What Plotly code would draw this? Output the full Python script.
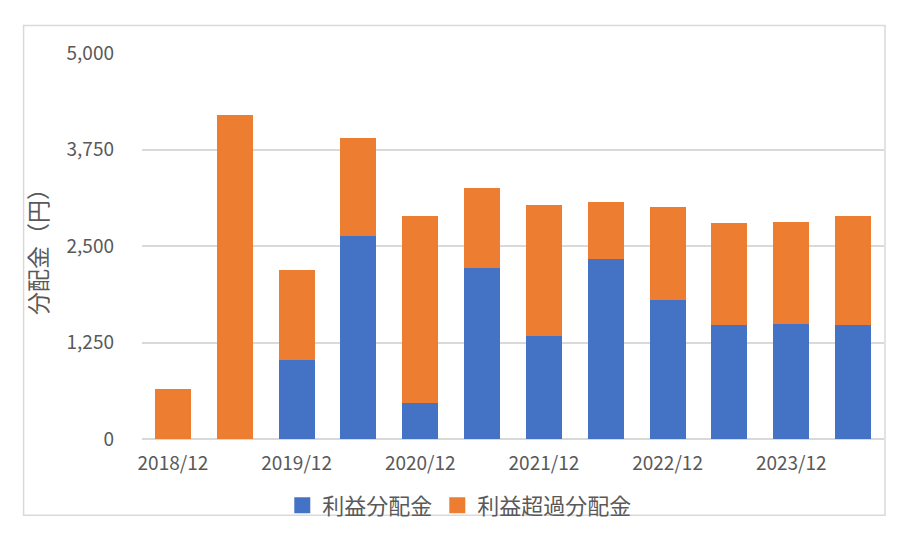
import plotly.graph_objects as go

periods = ["2018/12", "2019/6", "2019/12", "2020/6", "2020/12", "2021/6",
           "2021/12", "2022/6", "2022/12", "2023/6", "2023/12", "2024/6"]
profit_dist = [0, 0, 1027, 2633, 472, 2216, 1328, 2332, 1802, 1471, 1492, 1479]
excess_dist = [652, 4192, 1163, 1262, 2416, 1033, 1702, 736, 1202, 1326, 1318, 1409]
tick_labels = periods[::2]
y_ticks = [0, 1250, 2500, 3750, 5000]

BLUE, ORANGE = "#4472C4", "#ED7D31"
FONT = "Noto Sans CJK JP, Noto Sans, sans-serif"
GREY = "#595959"

# page body has an 8px margin; figure coordinates are page coordinates - 8
OFF = 8
W, H = 912 - 2 * OFF, 538 - 2 * OFF
plot_left, plot_right, plot_top, plot_bottom = 142, 884.5, 52.5, 439.5
L = plot_left - OFF
R = W - (plot_right - OFF)
T = plot_top - OFF
B = H - (plot_bottom - OFF)
pw, ph = W - L - R, H - T - B

def px_x(p):
    return (p - OFF - L) / pw

def px_y(p):
    return (H - B - (p - OFF)) / ph

fig = go.Figure()
fig.add_trace(go.Bar(x=periods, y=profit_dist, name="利益分配金",
                     legendgroup="a", showlegend=False,
                     marker=dict(color=BLUE, line=dict(width=0))))
fig.add_trace(go.Bar(x=periods, y=excess_dist, name="利益超過分配金",
                     legendgroup="b", showlegend=False,
                     marker=dict(color=ORANGE, line=dict(width=0))))
# legend entries with larger square keys
fig.add_trace(go.Scatter(x=[None], y=[None], mode="markers", name="利益分配金",
                         legendgroup="a",
                         marker=dict(symbol="square", size=16, color=BLUE)))
fig.add_trace(go.Scatter(x=[None], y=[None], mode="markers", name="利益超過分配金",
                         legendgroup="b",
                         marker=dict(symbol="square", size=16, color=ORANGE)))

fig.update_layout(
    width=W, height=H,
    barmode="stack", bargap=0.42,
    margin=dict(l=L, r=R, t=T, b=B, autoexpand=False, pad=0),
    paper_bgcolor="white", plot_bgcolor="white",
    font=dict(family=FONT, color=GREY, size=19),
    showlegend=True,
    legend=dict(orientation="h", x=px_x(460), xanchor="center",
                y=px_y(506), yanchor="middle", itemsizing="trace",
                font=dict(size=22, color=GREY), itemwidth=30,
                traceorder="normal", bgcolor="rgba(0,0,0,0)"),
    xaxis=dict(type="category", tickmode="array", tickvals=tick_labels,
               ticktext=tick_labels, showgrid=False, showline=False,
               zeroline=False, ticks="", tickfont=dict(size=19, color=GREY),
               ticklabelstandoff=11, range=[-0.5, 11.5], automargin=False),
    yaxis=dict(range=[0, 5000], tickmode="array", tickvals=y_ticks,
               tickformat=",d", showgrid=True, gridcolor="#d9d9d9",
               gridwidth=1.5, zeroline=True, zerolinecolor="#d9d9d9",
               zerolinewidth=1.5, showline=False, ticks="",
               tickfont=dict(size=19, color=GREY), ticklabelstandoff=27,
               automargin=False,
               title=dict(text="分配金（円）", font=dict(size=23, color=GREY),
                          standoff=12)),
    shapes=[dict(type="rect", xref="paper", yref="paper",
                 x0=px_x(23.5), x1=px_x(885.5), y0=px_y(516), y1=px_y(25),
                 line=dict(color="#d9d9d9", width=1.5), layer="below")],
)

fig.write_html("out.html")
